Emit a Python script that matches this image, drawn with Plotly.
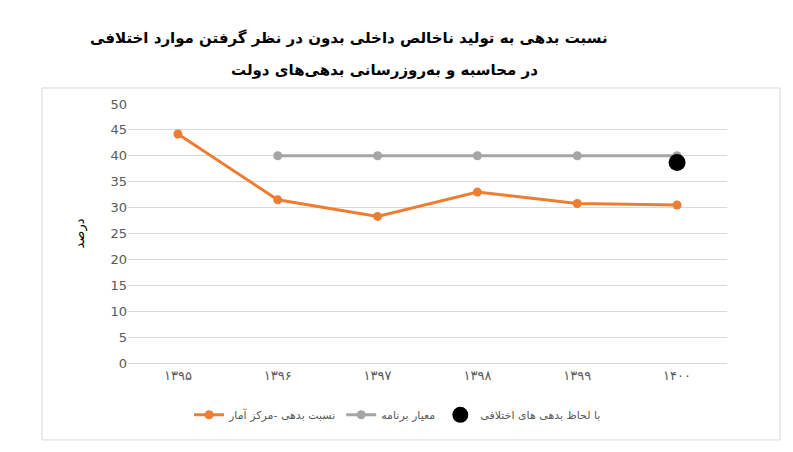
import plotly.graph_objects as go

years = ["۱۳۹۵", "۱۳۹۶", "۱۳۹۷", "۱۳۹۸", "۱۳۹۹", "۱۴۰۰"]
debt_ratio = [44.2, 31.5, 28.3, 33.0, 30.8, 30.5]
program_years = ["۱۳۹۶", "۱۳۹۷", "۱۳۹۸", "۱۳۹۹", "۱۴۰۰"]
program_target = [40, 40, 40, 40, 40]
disputed_years = ["۱۴۰۰"]
disputed_value = [38.7]

F = "DejaVu Sans"
fig = go.Figure()
fig.add_trace(go.Scatter(x=years, y=debt_ratio, name="نسبت بدهی -مرکز آمار", mode="lines+markers",
                         line=dict(color="#ED7D31", width=3), marker=dict(size=9, color="#ED7D31")))
fig.add_trace(go.Scatter(x=program_years, y=program_target, name="معیار برنامه", mode="lines+markers",
                         line=dict(color="#A5A5A5", width=3), marker=dict(size=9, color="#A5A5A5")))
fig.add_trace(go.Scatter(x=disputed_years, y=disputed_value, name="با لحاظ بدهی های اختلافی", mode="markers",
                         marker=dict(size=17, color="#000000")))

fig.update_layout(
    width=793, height=452, paper_bgcolor="white", plot_bgcolor="white",
    margin=dict(l=120, r=74, t=96, b=97),
    font=dict(family=F, size=12, color="#595959"),
    xaxis=dict(type="category", categoryorder="array", categoryarray=years, range=[-0.5, 5.5],
               showgrid=False, showline=True, linecolor="#D9D9D9", ticks="", tickfont=dict(size=13)),
    yaxis=dict(range=[0, 50], dtick=5, showgrid=True, gridcolor="#D9D9D9", zeroline=False,
               showline=False, ticks="", tickfont=dict(size=13),
               title=dict(text="درصد", font=dict(size=13, color="black", family=F), standoff=22)),
    legend=dict(orientation="h", x=0.45, xanchor="center", y=-0.2, yanchor="middle",
                font=dict(size=11, color="#595959"), traceorder="normal"),
    shapes=[dict(type="rect", xref="paper", yref="paper", x0=-0.1436, x1=1.0885, y0=-0.297, y1=1.0618,
                 line=dict(color="#D9D9D9", width=1))],
    annotations=[
        dict(text="<b>نسبت بدهی به تولید ناخالص داخلی بدون در نظر گرفتن موارد اختلافی</b>",
             xref="paper", yref="paper", x=(610-128)/599, y=(363-38)/259, xanchor="right", yanchor="middle",
             showarrow=False, font=dict(size=15, color="black", family=F)),
        dict(text="<b>در محاسبه و به‌روزرسانی بدهی‌های دولت</b>",
             xref="paper", yref="paper", x=(540-128)/599, y=(363-70)/259, xanchor="right", yanchor="middle",
             showarrow=False, font=dict(size=15, color="black", family=F)),
    ],
)
fig.write_html("out.html")
